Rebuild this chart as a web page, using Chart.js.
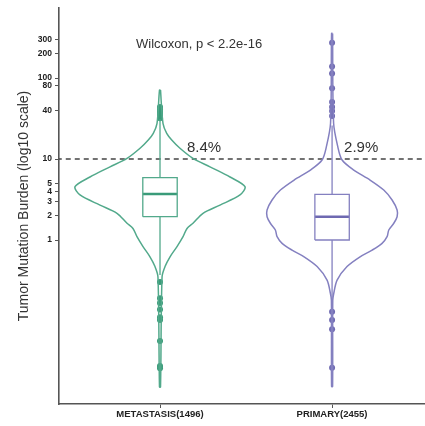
<!DOCTYPE html>
<html>
<head>
<meta charset="utf-8">
<script src="https://cdn.jsdelivr.net/npm/chart.js@4.4.0/dist/chart.umd.min.js"></script>
<style>
  html, body { margin: 0; padding: 0; background: #fff; }
  #wrap { width: 425px; height: 426px; }
</style>
</head>
<body>
<div id="wrap"><canvas id="tmbViolin"></canvas></div>
<script>
const categories = ['METASTASIS(1496)', 'PRIMARY(2455)'];
const yTicks = [1, 2, 3, 4, 5, 10, 40, 80, 100, 200, 300];

// violin outline: TMB level and relative density (metastasis peak = 1)
const metLevels = [71, 27.6, 20.8, 17.2, 13.6, 10.2, 8.0, 6.0, 4.55, 3.6, 2.7, 2.14, 1.61, 1.39, 1.1, 0.83, 0.62, 0.47, 0.35, 0.0153];
const metDensity = [0.006, 0.035, 0.079, 0.138, 0.235, 0.388, 0.588, 0.824, 1.0, 0.941, 0.706, 0.506, 0.388, 0.318, 0.271, 0.2, 0.118, 0.059, 0.024, 0.006];
const priLevels = [356, 27.6, 14.2, 9.72, 7.31, 5.5, 4.14, 3.12, 2.35, 1.94, 1.61, 1.33, 1.1, 0.91, 0.75, 0.62, 0.47, 0.32, 0.22, 0.18, 0.0155];
const priDensity = [0.006, 0.018, 0.067, 0.118, 0.255, 0.447, 0.608, 0.706, 0.765, 0.765, 0.726, 0.667, 0.647, 0.588, 0.471, 0.329, 0.176, 0.059, 0.02, 0.008, 0.006];

// box stats: q1, median, q3, lower whisker, upper whisker
const metBox = [1.94, 3.70, 5.88, 0.37, 31];
const priBox = [1.0, 1.94, 3.67, 0.15, 26];

const metOutliers = [44, 41, 38, 36, 34, 32, 0.303, 0.191, 0.167, 0.139, 0.111, 0.103, 0.0567, 0.0278, 0.0261];
const priOutliers = [273, 139, 114, 74.6, 50.6, 43.8, 39.1, 34, 0.130, 0.103, 0.079, 0.0265];

const cutoff = 10;
const aboveCutoff = ['8.4%', '2.9%'];
const testLabel = 'Wilcoxon, p < 2.2e-16';

const lineColors = ['#52a98b', '#8480c0'];
const dotColors = ['#3a9b79', '#6e69b1'];
const violinHalf = 0.494;
const boxHalf = 0.1;

function violinPoints(center, levels, density) {
  const right = levels.map((v, i) => ({ x: center + density[i] * violinHalf, y: v }));
  const left = levels.map((v, i) => ({ x: center - density[i] * violinHalf, y: v })).reverse();
  return right.concat(left, [right[0]]);
}

function boxDatasets(center, box, color, medColor) {
  const [q1, med, q3, lo, hi] = box;
  return [
    { data: [{x: center - boxHalf, y: q1}, {x: center + boxHalf, y: q1}, {x: center + boxHalf, y: q3}, {x: center - boxHalf, y: q3}, {x: center - boxHalf, y: q1}],
      showLine: true, borderColor: color, borderWidth: 1.3, pointRadius: 0, tension: 0 },
    { data: [{x: center - boxHalf, y: med}, {x: center + boxHalf, y: med}],
      showLine: true, borderColor: medColor, borderWidth: 2.6, pointRadius: 0 },
    { data: [{x: center, y: q3}, {x: center, y: hi}],
      showLine: true, borderColor: color, borderWidth: 1.3, pointRadius: 0 },
    { data: [{x: center, y: q1}, {x: center, y: lo}],
      showLine: true, borderColor: color, borderWidth: 1.3, pointRadius: 0 }
  ];
}

const datasets = [];
[[metLevels, metDensity, metBox, metOutliers], [priLevels, priDensity, priBox, priOutliers]].forEach((g, i) => {
  const c = i + 1;
  datasets.push({ data: violinPoints(c, g[0], g[1]), showLine: true, borderColor: lineColors[i],
    borderWidth: 1.5, pointRadius: 0, tension: 0.3 });
  datasets.push(...boxDatasets(c, g[2], lineColors[i], dotColors[i]));
  datasets.push({ data: g[3].map(v => ({ x: c, y: v })), pointRadius: 3, pointBorderWidth: 0,
    backgroundColor: dotColors[i], borderColor: dotColors[i] });
});
datasets.push({ data: [{ x: 0.4, y: cutoff }, { x: 2.6, y: cutoff }], showLine: true, borderColor: '#444',
  borderWidth: 1.5, borderDash: [5, 4], pointRadius: 0 });

const annotateText = {
  id: 'annotateText',
  afterDatasetsDraw(chart) {
    const { ctx, scales: { x, y } } = chart;
    ctx.save();
    ctx.fillStyle = '#333';
    ctx.textAlign = 'center';
    ctx.textBaseline = 'middle';
    ctx.font = '13px "Liberation Sans", Arial, sans-serif';
    ctx.fillText(testLabel, x.getPixelForValue(1.227), y.getPixelForValue(263));
    ctx.font = '15px "Liberation Sans", Arial, sans-serif';
    const offs = [0.256, 0.169];
    aboveCutoff.forEach((t, i) => ctx.fillText(t, x.getPixelForValue(i + 1 + offs[i]), y.getPixelForValue(13.7)));
    ctx.restore();
  }
};

new Chart(document.getElementById('tmbViolin'), {
  type: 'scatter',
  data: { datasets: datasets },
  plugins: [annotateText],
  options: {
    responsive: true,
    maintainAspectRatio: false,
    animation: false,
    layout: { autoPadding: false, padding: { top: 8, left: 0, right: 0, bottom: 0 } },
    plugins: { legend: { display: false }, tooltip: { enabled: false } },
    scales: {
      x: {
        type: 'linear',
        min: 0.413,
        max: 2.54,
        afterBuildTicks: (scale) => { scale.ticks = [{ value: 1 }, { value: 2 }]; },
        afterFit: (scale) => { scale.height = 22; },
        ticks: {
          callback: (v) => categories[v - 1],
          color: '#222',
          font: { family: '"Liberation Sans", Arial, sans-serif', size: 9.5, weight: 'bold' },
          padding: 1,
          maxRotation: 0
        },
        grid: { drawOnChartArea: false, drawTicks: true, tickLength: 4, color: '#555' },
        border: { display: true, color: '#555', width: 1.6 }
      },
      y: {
        type: 'logarithmic',
        min: 0.00944,
        max: 731,
        afterBuildTicks: (scale) => { scale.ticks = yTicks.map(v => ({ value: v })); },
        afterFit: (scale) => { scale.width = 59; },
        ticks: {
          autoSkip: false,
          callback: (v) => String(v),
          color: '#222',
          font: { family: '"Liberation Sans", Arial, sans-serif', size: 8.5, weight: 'bold' },
          padding: 3
        },
        grid: { drawOnChartArea: false, drawTicks: true, tickLength: 4, color: '#555' },
        border: { display: true, color: '#555', width: 1.6 },
        title: {
          display: true,
          text: 'Tumor Mutation Burden (log10 scale)',
          color: '#333',
          font: { family: '"Liberation Sans", Arial, sans-serif', size: 14 },
          padding: { top: 16, bottom: 0 }
        }
      }
    }
  }
});
</script>
</body>
</html>
